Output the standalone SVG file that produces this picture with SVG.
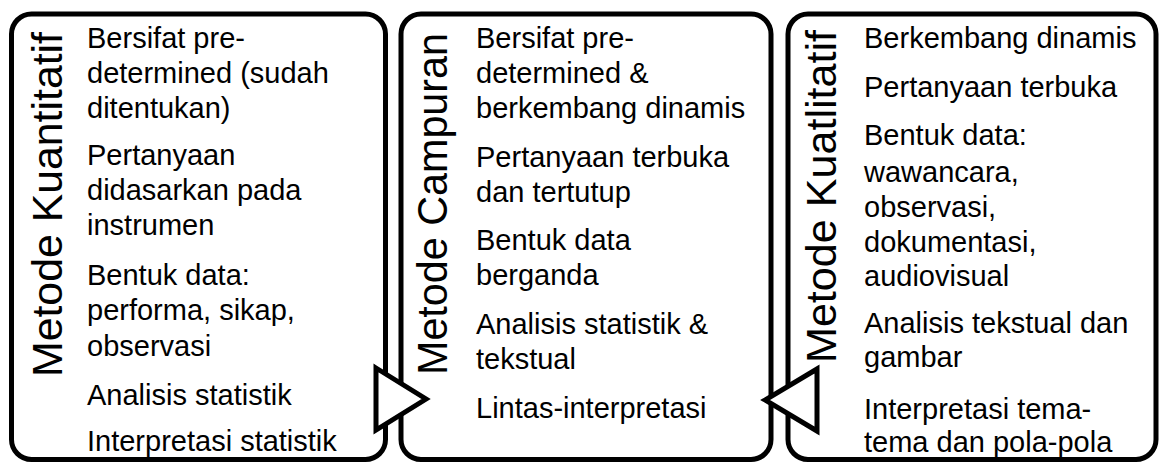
<svg xmlns="http://www.w3.org/2000/svg" width="1159" height="462" viewBox="0 0 1159 462">
<style>
.box{fill:#fff;stroke:#000;stroke-width:5}
.tri{fill:#fff;stroke:#000;stroke-width:5;stroke-linejoin:miter}
.t{font-family:"Liberation Sans",Arial,sans-serif;font-size:29px;fill:#000}
.ttl{font-family:"Liberation Sans",Arial,sans-serif;font-size:42px;fill:#000}
</style>
<rect width="1159" height="462" fill="#fff"/>
<g id="node-kuantitatif">
<rect class="box" x="11.5" y="14" width="374" height="445.5" rx="20"/>
<text class="ttl" transform="translate(62,377) rotate(-90)" textLength="345" lengthAdjust="spacingAndGlyphs">Metode Kuantitatif</text>
<text class="t" x="87" y="48">Bersifat pre-</text>
<text class="t" x="87" y="83">determined (sudah</text>
<text class="t" x="87" y="118">ditentukan)</text>
<text class="t" x="87" y="165">Pertanyaan</text>
<text class="t" x="87" y="200">didasarkan pada</text>
<text class="t" x="87" y="235">instrumen</text>
<text class="t" x="87" y="285">Bentuk data:</text>
<text class="t" x="87" y="320">performa, sikap,</text>
<text class="t" x="87" y="356">observasi</text>
<text class="t" x="87" y="405">Analisis statistik</text>
<text class="t" x="87" y="451">Interpretasi statistik</text>
</g>
<g id="node-campuran">
<rect class="box" x="401" y="14" width="370" height="445.5" rx="20"/>
<text class="ttl" transform="translate(447,375) rotate(-90)" textLength="342" lengthAdjust="spacingAndGlyphs">Metode Campuran</text>
<text class="t" x="476" y="48">Bersifat pre-</text>
<text class="t" x="476" y="83">determined &amp;</text>
<text class="t" x="476" y="118">berkembang dinamis</text>
<text class="t" x="476" y="167">Pertanyaan terbuka</text>
<text class="t" x="476" y="202">dan tertutup</text>
<text class="t" x="476" y="250">Bentuk data</text>
<text class="t" x="476" y="285">berganda</text>
<text class="t" x="476" y="334">Analisis statistik &amp;</text>
<text class="t" x="476" y="369">tekstual</text>
<text class="t" x="476" y="418">Lintas-interpretasi</text>
</g>
<g id="node-kualitatif">
<rect class="box" x="788" y="14" width="368" height="445.5" rx="20"/>
<text class="ttl" transform="translate(836,363) rotate(-90)" textLength="333" lengthAdjust="spacingAndGlyphs">Metode Kuatlitatif</text>
<text class="t" x="864" y="48">Berkembang dinamis</text>
<text class="t" x="864" y="97">Pertanyaan terbuka</text>
<text class="t" x="864" y="145">Bentuk data:</text>
<text class="t" x="864" y="182">wawancara,</text>
<text class="t" x="864" y="217">observasi,</text>
<text class="t" x="864" y="252">dokumentasi,</text>
<text class="t" x="864" y="286">audiovisual</text>
<text class="t" x="864" y="333">Analisis tekstual dan</text>
<text class="t" x="864" y="367">gambar</text>
<text class="t" x="864" y="419">Interpretasi tema-</text>
<text class="t" x="864" y="452">tema dan pola-pola</text>
</g>
<g id="connectors">
<polygon class="tri" points="376,368 426,399 376,430"/>
<polygon class="tri" points="817,369 765,400 817,431"/>
</g>
</svg>
